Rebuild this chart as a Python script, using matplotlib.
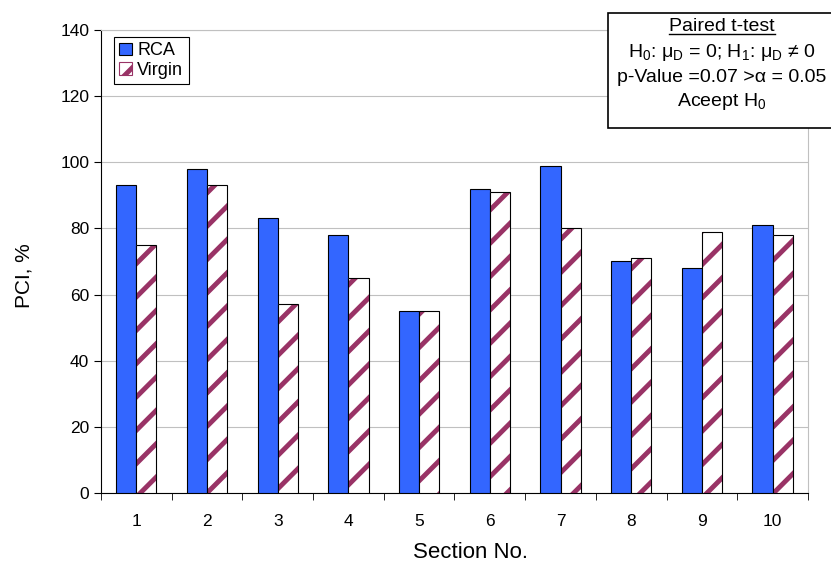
import numpy as np
from matplotlib import pyplot as plt
from matplotlib.lines import Line2D

plt.rcParams['font.family'] = ['Liberation Sans', 'DejaVu Sans']
plt.rcParams['mathtext.fontset'] = 'custom'
plt.rcParams['mathtext.rm'] = 'Liberation Sans'
plt.rcParams['mathtext.it'] = 'Liberation Sans:italic'
plt.rcParams['hatch.linewidth'] = 3.5

# 数据
sections = [1, 2, 3, 4, 5, 6, 7, 8, 9, 10]
rca = [93, 98, 83, 78, 55, 92, 99, 70, 68, 81]
virgin = [75, 93, 57, 65, 55, 91, 80, 71, 79, 78]


def main():
    fig = plt.figure(figsize=(8.31, 5.69), dpi=100)
    ax = fig.add_axes([0.1215, 0.1336, 0.8508, 0.8137])

    x = np.arange(len(sections))
    w = 0.285

    ax.bar(x - w / 2, rca, w, color='#3366FF', edgecolor='black', linewidth=0.8,
           label='RCA', zorder=3)
    # 斜线填充（先画颜色，再画黑色边框）
    ax.bar(x + w / 2, virgin, w, color='white', edgecolor='#993366', hatch='/',
           linewidth=0, zorder=3)
    ax.bar(x + w / 2, virgin, w, fill=False, edgecolor='black', linewidth=0.8,
           zorder=4)

    # 坐标轴
    ax.set_xlim(-0.5, len(sections) - 0.5)
    ax.set_ylim(0, 140)
    ax.set_yticks(range(0, 141, 20))
    ax.set_xticks(x)
    ax.set_xticklabels([str(s) for s in sections])
    ax.set_xticks(np.arange(-0.5, len(sections), 1), minor=True)
    ax.tick_params(axis='x', which='major', length=0, pad=15, labelsize=12.5)
    ax.tick_params(axis='x', which='minor', length=5, direction='out')
    ax.tick_params(axis='y', length=5, direction='out', labelsize=12.5)
    ax.yaxis.grid(True, color='#c0c0c0', linewidth=0.8, zorder=0)
    ax.set_axisbelow(True)
    for s in ['top', 'right']:
        ax.spines[s].set_color('#c0c0c0')
    for s in ['left', 'bottom']:
        ax.spines[s].set_color('black')

    ax.set_xlabel('Section No.', fontsize=16)
    ax.xaxis.set_label_coords(0.523, -0.105)
    ax.set_ylabel('PCI, %', fontsize=15)
    ax.yaxis.set_label_coords(-0.096, 0.47)

    # 图例
    handles = [
        plt.Rectangle((0, 0), 1, 1, facecolor='#3366FF', edgecolor='black', linewidth=0.8),
        plt.Rectangle((0, 0), 1, 1, facecolor='white', edgecolor='#993366', hatch='/', linewidth=0.8),
    ]
    leg = ax.legend(handles, ['RCA', 'Virgin'], loc='upper left', fontsize=13,
                    fancybox=False, edgecolor='black', framealpha=1,
                    handlelength=0.7, handleheight=0.7, handletextpad=0.3,
                    borderpad=0.3, labelspacing=0.15,
                    borderaxespad=0, bbox_to_anchor=(0.018, 0.985))
    leg.get_frame().set_linewidth(0.8)

    # 检验结果文本框
    bx, by, bw, bh = 0.7316, 0.7750, 0.2900, 0.2020
    box = plt.Rectangle((bx, by), bw, bh, transform=fig.transFigure,
                        facecolor='white', edgecolor='black', linewidth=1.2,
                        zorder=10)
    fig.add_artist(box)
    cx = 0.869
    lines = [
        'Paired t-test',
        r'H$_0$: μ$_\mathrm{D}$ = 0; H$_1$: μ$_\mathrm{D}$ ≠ 0',
        'p-Value =0.07 >α = 0.05',
        r'Aceept H$_0$',
    ]
    ys = [0.953, 0.907, 0.864, 0.821]
    for t, yy in zip(lines, ys):
        fig.text(cx, yy, t, ha='center', va='center', fontsize=14, zorder=11)
    fig.add_artist(Line2D([cx - 0.064, cx + 0.064], [0.940, 0.940],
                          transform=fig.transFigure, color='black', linewidth=1.0,
                          zorder=11))

    plt.savefig('out.png', dpi=100)


if __name__ == "__main__":
    main()
